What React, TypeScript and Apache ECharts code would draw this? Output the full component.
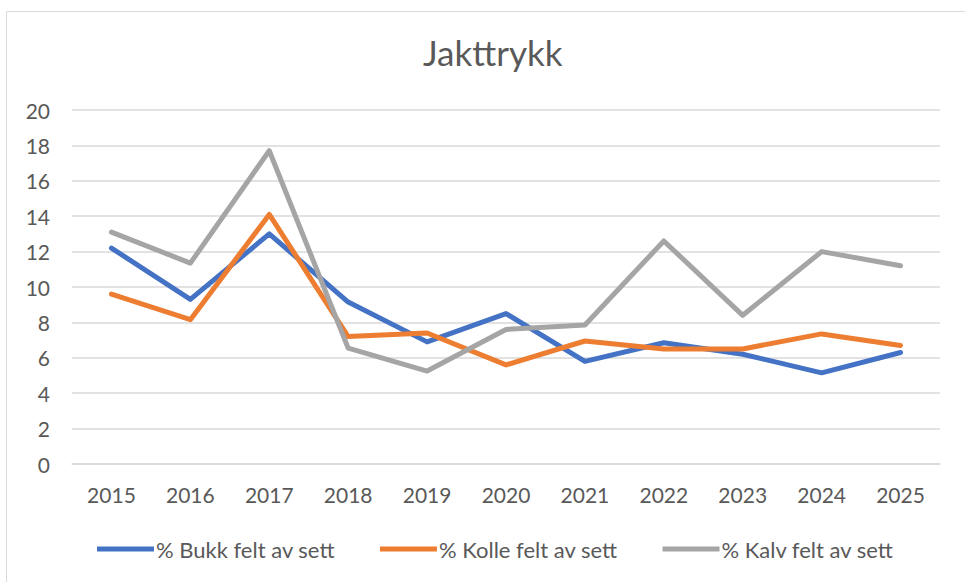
import React, { useEffect, useRef } from "react";
import * as echarts from "echarts";

const years = ["2015", "2016", "2017", "2018", "2019", "2020", "2021", "2022", "2023", "2024", "2025"];
const bukk = [12.2, 9.3, 13.0, 9.15, 6.9, 8.5, 5.8, 6.85, 6.2, 5.15, 6.3];
const kolle = [9.6, 8.15, 14.1, 7.2, 7.4, 5.6, 6.95, 6.5, 6.5, 7.35, 6.7];
const kalv = [13.1, 11.35, 17.7, 6.55, 5.25, 7.6, 7.85, 12.6, 8.4, 12.0, 11.2];
const seriesNames = ["% Bukk felt av sett", "% Kolle felt av sett", "% Kalv felt av sett"];
const colors = ["#4472C4", "#ED7D31", "#A5A5A5"];

export default function App() {
  const ref = useRef<HTMLDivElement>(null);
  useEffect(() => {
    if (!ref.current) return;
    const chart = echarts.init(ref.current, null, { renderer: "svg" });
    const font = "Lato, 'Open Sans', sans-serif";
    const data = [bukk, kolle, kalv];
    chart.setOption({
      animation: false,
      backgroundColor: "#ffffff",
      textStyle: { fontFamily: font },
      graphic: [
        {
          type: "rect",
          shape: { x: 6.5, y: 11.5, width: 1000, height: 700 },
          style: { fill: "none", stroke: "#D9D9D9", lineWidth: 1 },
          silent: true,
        },
      ],
      title: {
        text: "Jakttrykk",
        left: 423,
        top: 34,
        padding: 0,
        textStyle: { fontFamily: font, fontSize: 35, fontWeight: "normal", color: "#595959" },
      },
      legend: {
        bottom: 22,
        left: 97,
        padding: 0,
        itemWidth: 57,
        itemHeight: 5,
        itemGap: 45,
        icon: "rect",
        textStyle: { fontFamily: font, fontSize: 22, color: "#595959", padding: [0, 0, 0, -3] },
        data: seriesNames,
      },
      grid: { left: 72, right: 25, top: 110, bottom: 118, containLabel: false },
      xAxis: {
        type: "category",
        data: years,
        boundaryGap: true,
        axisLine: { lineStyle: { color: "#D9D9D9", width: 1.5 } },
        axisTick: { show: false },
        axisLabel: { fontFamily: font, fontSize: 21, color: "#595959", margin: 20 },
      },
      yAxis: {
        type: "value",
        min: 0,
        max: 20,
        interval: 2,
        axisLine: { show: false },
        axisTick: { show: false },
        splitLine: { lineStyle: { color: "#D9D9D9", width: 1.5 } },
        axisLabel: { fontFamily: font, fontSize: 21, color: "#595959", margin: 22 },
      },
      series: data.map((d, i) => ({
        name: seriesNames[i],
        type: "line",
        data: d,
        symbol: "none",
        lineStyle: { color: colors[i], width: 5, cap: "round", join: "round" },
        itemStyle: { color: colors[i] },
      })),
    });
    return () => chart.dispose();
  }, []);
  return (
    <div
      ref={ref}
      style={{ position: "fixed", left: 0, top: 0, width: 965, height: 582 }}
    />
  );
}
